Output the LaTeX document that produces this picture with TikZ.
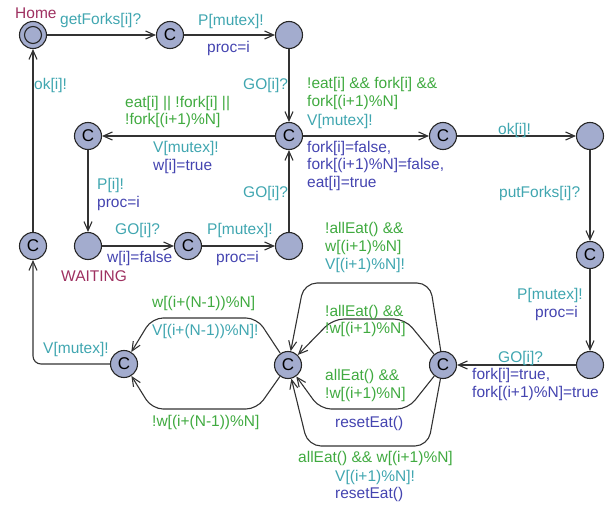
\documentclass[tikz,border=0pt]{standalone}
\usepackage{fontspec}
\setmainfont{Liberation Sans}
\usetikzlibrary{arrows.meta}
\definecolor{namecol}{RGB}{158,48,96}
\definecolor{synccol}{RGB}{64,166,176}
\definecolor{guardcol}{RGB}{64,170,64}
\definecolor{updcol}{RGB}{68,68,176}
\definecolor{locfill}{RGB}{163,172,206}
\begin{document}
\begin{tikzpicture}[x=1pt,y=-1pt,
  loc/.style={circle,draw=black!85,fill=locfill,line width=1.1pt,minimum size=27pt,inner sep=0pt},
  initloc/.style={loc,path picture={\draw[black!85,line width=1.1pt] (path picture bounding box.center) circle (8.5pt);}},
  com/.style={loc,font=\fontsize{17}{17}\selectfont},
  edge/.style={draw=black!80,line width=1.1pt,-{Straight Barb[length=9pt,width=8pt]}},
  lbl/.style={inner sep=0pt,anchor=west,align=left,font=\fontsize{15.5}{17.5}\selectfont},
  sync/.style={lbl,text=synccol},
  guard/.style={lbl,text=guardcol},
  upd/.style={lbl,text=updcol},
  lname/.style={lbl,text=namecol},
]
\useasboundingbox (0,0) rectangle (606,506);

% locations
\node[initloc] (home) at (33,35) {};
\node[com] (c1) at (170,35) {C};
\node[loc] (s1) at (289,35) {};
\node[com] (c2) at (289,136) {C};
\node[com] (c3) at (88,136) {C};
\node[com] (c4) at (443,136) {C};
\node[loc] (s2) at (590,136) {};
\node[com] (c5) at (590,255) {C};
\node[loc] (s3) at (590,365) {};
\node[com] (c6) at (443,365) {C};
\node[com] (c7) at (288,365) {C};
\node[com] (c8) at (124,364) {C};
\node[com] (c9) at (33,246) {C};
\node[loc] (wait) at (88,246) {};
\node[com] (c10) at (188,246) {C};
\node[loc] (s4) at (289,246) {};

% transitions
\draw[edge] (home) -- (c1);
\draw[edge] (c1) -- (s1);
\draw[edge] (s1) -- (c2);
\draw[edge] (c2) -- (c3);
\draw[edge] (c2) -- (c4);
\draw[edge] (c4) -- (s2);
\draw[edge] (s2) -- (c5);
\draw[edge] (c5) -- (s3);
\draw[edge] (s3) -- (c6);
\draw[edge,rounded corners=13pt] (c6) -- (430,283) -- (304,283) -- (c7);
\draw[edge,rounded corners=11pt] (c6) -- (405,319) -- (333,319) -- (c7);
\draw[edge,rounded corners=11pt] (c6) -- (408,409) -- (320,409) -- (c7);
\draw[edge,rounded corners=13pt] (c6) -- (428,446) -- (308,446) -- (c7);
\draw[edge,rounded corners=11pt] (c7) -- (257,318) -- (152,318) -- (c8);
\draw[edge,rounded corners=11pt] (c7) -- (257,409) -- (152,409) -- (c8);
\draw[edge,rounded corners=8pt] (c8) -- (33,364) -- (c9);
\draw[edge] (c9) -- (home);
\draw[edge] (c3) -- (wait);
\draw[edge] (wait) -- (c10);
\draw[edge] (c10) -- (s4);
\draw[edge] (s4) -- (c2);

% location names
\node[lname] (nhome) at (15,13) {Home};
\node[lname] (nwait) at (61,276) {WAITING};

% labels
\node[sync] (l1) at (60,20) {getForks[i]?};
\node[sync] (l2) at (198,21) {P[mutex]!};
\node[upd] (l3) at (207,48) {proc=i};
\node[sync] (l4) at (243,85) {GO[i]?};
\node[sync] (l5) at (34,85) {ok[i]!};
\node[guard] (l6) at (125,112) {eat[i] || !fork[i] ||\\!fork[(i+1)\%N]};
\node[sync] (l7) at (153,148) {V[mutex]!};
\node[upd] (l8) at (153,166) {w[i]=true};
\node[guard] (l9) at (307,93.5) {!eat[i] \&\& fork[i] \&\&\\fork[(i+1)\%N]};
\node[sync] (l10) at (307,121) {V[mutex]!};
\node[upd] (l11) at (307,165.5) {fork[i]=false,\\fork[(i+1)\%N]=false,\\eat[i]=true};
\node[sync] (l12) at (498,130) {ok[i]!};
\node[sync] (l13) at (499,193) {putForks[i]?};
\node[sync] (l14) at (97,185) {P[i]!};
\node[upd] (l15) at (97,203) {proc=i};
\node[sync] (l16) at (243,193) {GO[i]?};
\node[sync] (l17) at (115,230) {GO[i]?};
\node[upd] (l18) at (107,258) {w[i]=false};
\node[sync] (l19) at (207,230) {P[mutex]!};
\node[upd] (l20) at (216,258) {proc=i};
\node[guard] (l21) at (325,238.5) {!allEat() \&\&\\w[(i+1)\%N]};
\node[sync] (l22) at (325,265) {V[(i+1)\%N]!};
\node[sync] (l23) at (517,295) {P[mutex]!};
\node[upd] (l24) at (535,313) {proc=i};
\node[guard] (l25) at (325,321) {!allEat() \&\&\\!w[(i+1)\%N]};
\node[guard] (l26) at (325,385.5) {allEat() \&\&\\!w[(i+1)\%N]};
\node[upd] (l27) at (335,423) {resetEat()};
\node[sync] (l28) at (498,358) {GO[i]?};
\node[upd] (l29) at (472,384.5) {fork[i]=true,\\fork[(i+1)\%N]=true};
\node[guard] (l30) at (298,458) {allEat() \&\& w[(i+1)\%N]};
\node[sync] (l31) at (335,477) {V[(i+1)\%N]!};
\node[upd] (l32) at (335,494) {resetEat()};
\node[guard] (l33) at (152,303) {w[(i+(N-1))\%N]};
\node[sync] (l34) at (152,331) {V[(i+(N-1))\%N]!};
\node[guard] (l35) at (152,422) {!w[(i+(N-1))\%N]};
\node[sync] (l36) at (43,349) {V[mutex]!};
\end{tikzpicture}
\end{document}
